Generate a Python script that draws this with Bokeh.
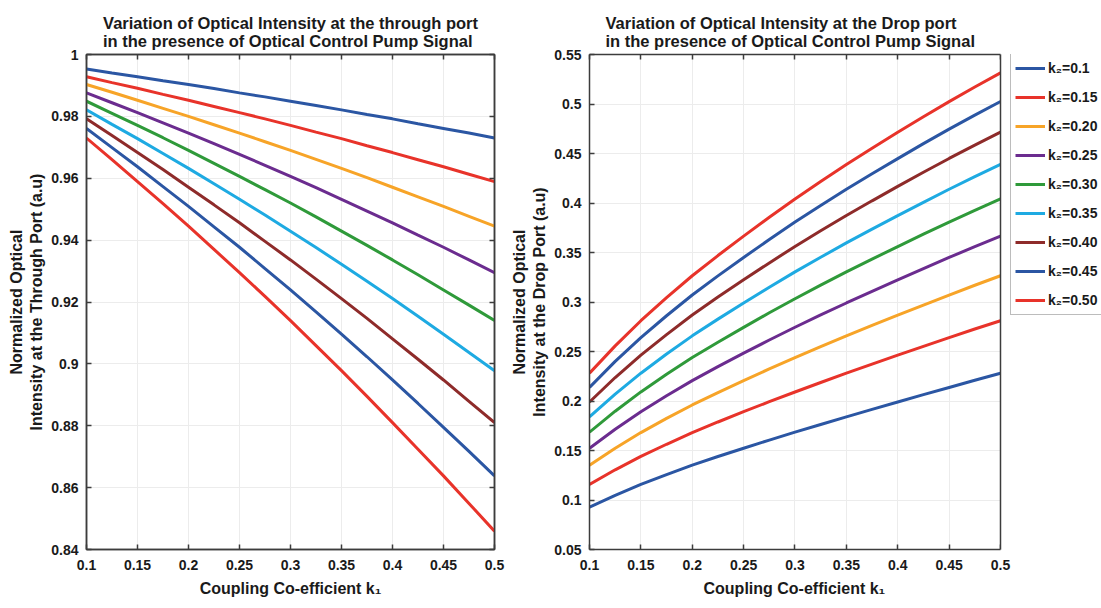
from bokeh.plotting import figure
from bokeh.layouts import row
from bokeh.models import (FixedTicker, LinearAxis, Legend, LegendItem, Range1d, Title,
                          BoxAnnotation, Span)
from bokeh.embed import file_html
from bokeh.resources import INLINE

# ---------------- data ----------------
k1 = [0.100, 0.125, 0.150, 0.175, 0.200, 0.225, 0.250, 0.275, 0.300,
      0.325, 0.350, 0.375, 0.400, 0.425, 0.450, 0.475, 0.500]
k2_labels = ["k\u2082=0.1", "k\u2082=0.15", "k\u2082=0.20", "k\u2082=0.25", "k\u2082=0.30",
             "k\u2082=0.35", "k\u2082=0.40", "k\u2082=0.45", "k\u2082=0.50"]
colors = ["#2B56A3", "#E8332A", "#F7A428", "#6B2C8F", "#2F9A3A", "#1EAAE2", "#8E2B2A", "#2B56A3", "#E8332A"]

# Through port (left panel), one list per k2
thr_k2_010 = [0.9953, 0.9940, 0.9928, 0.9915, 0.9903, 0.9890, 0.9876, 0.9863, 0.9849,
              0.9835, 0.9821, 0.9806, 0.9792, 0.9776, 0.9761, 0.9746, 0.9730]
thr_k2_015 = [0.9928, 0.9909, 0.9891, 0.9871, 0.9852, 0.9832, 0.9812, 0.9792, 0.9771,
              0.9749, 0.9728, 0.9705, 0.9683, 0.9660, 0.9637, 0.9613, 0.9589]
thr_k2_020 = [0.9903, 0.9878, 0.9852, 0.9826, 0.9800, 0.9773, 0.9746, 0.9718, 0.9690,
              0.9661, 0.9632, 0.9602, 0.9571, 0.9540, 0.9509, 0.9477, 0.9445]
thr_k2_025 = [0.9876, 0.9844, 0.9812, 0.9779, 0.9746, 0.9712, 0.9677, 0.9642, 0.9606,
              0.9570, 0.9532, 0.9494, 0.9456, 0.9416, 0.9377, 0.9336, 0.9295]
thr_k2_030 = [0.9849, 0.9810, 0.9771, 0.9731, 0.9690, 0.9648, 0.9606, 0.9563, 0.9520,
              0.9475, 0.9429, 0.9383, 0.9336, 0.9288, 0.9239, 0.9190, 0.9140]
thr_k2_035 = [0.9821, 0.9774, 0.9728, 0.9680, 0.9632, 0.9582, 0.9532, 0.9481, 0.9429,
              0.9376, 0.9322, 0.9267, 0.9211, 0.9154, 0.9096, 0.9037, 0.8978]
thr_k2_040 = [0.9792, 0.9738, 0.9683, 0.9628, 0.9571, 0.9514, 0.9456, 0.9396, 0.9336,
              0.9274, 0.9211, 0.9147, 0.9081, 0.9015, 0.8948, 0.8879, 0.8810]
thr_k2_045 = [0.9761, 0.9699, 0.9637, 0.9573, 0.9509, 0.9443, 0.9377, 0.9308, 0.9239,
              0.9168, 0.9096, 0.9023, 0.8948, 0.8872, 0.8795, 0.8717, 0.8638]
thr_k2_050 = [0.9730, 0.9660, 0.9589, 0.9518, 0.9445, 0.9370, 0.9295, 0.9218, 0.9140,
              0.9059, 0.8978, 0.8895, 0.8810, 0.8724, 0.8638, 0.8549, 0.8459]

# Drop port (right panel), one list per k2
drp_k2_010 = [0.0927, 0.1047, 0.1157, 0.1257, 0.1352, 0.1439, 0.1523, 0.1605, 0.1685,
              0.1763, 0.1840, 0.1915, 0.1990, 0.2064, 0.2137, 0.2209, 0.2280]
drp_k2_015 = [0.1157, 0.1305, 0.1440, 0.1563, 0.1681, 0.1788, 0.1892, 0.1993, 0.2091,
              0.2187, 0.2281, 0.2372, 0.2463, 0.2552, 0.2640, 0.2727, 0.2811]
drp_k2_020 = [0.1352, 0.1523, 0.1681, 0.1824, 0.1960, 0.2085, 0.2206, 0.2324, 0.2438,
              0.2549, 0.2658, 0.2764, 0.2867, 0.2969, 0.3070, 0.3169, 0.3265]
drp_k2_025 = [0.1523, 0.1715, 0.1892, 0.2053, 0.2206, 0.2347, 0.2483, 0.2616, 0.2745,
              0.2869, 0.2990, 0.3108, 0.3223, 0.3337, 0.3450, 0.3559, 0.3665]
drp_k2_030 = [0.1685, 0.1897, 0.2092, 0.2270, 0.2439, 0.2594, 0.2744, 0.2891, 0.3033,
              0.3170, 0.3304, 0.3433, 0.3560, 0.3685, 0.3807, 0.3926, 0.4042]
drp_k2_035 = [0.1840, 0.2070, 0.2281, 0.2475, 0.2658, 0.2827, 0.2990, 0.3149, 0.3304,
              0.3452, 0.3597, 0.3736, 0.3873, 0.4007, 0.4139, 0.4266, 0.4390]
drp_k2_040 = [0.1990, 0.2237, 0.2463, 0.2671, 0.2868, 0.3050, 0.3224, 0.3395, 0.3561,
              0.3719, 0.3874, 0.4022, 0.4168, 0.4311, 0.4450, 0.4585, 0.4716]
drp_k2_045 = [0.2137, 0.2400, 0.2640, 0.2861, 0.3071, 0.3264, 0.3450, 0.3631, 0.3807,
              0.3975, 0.4138, 0.4295, 0.4448, 0.4600, 0.4746, 0.4888, 0.5025]
drp_k2_050 = [0.2280, 0.2557, 0.2811, 0.3044, 0.3265, 0.3469, 0.3665, 0.3856, 0.4041,
              0.4218, 0.4389, 0.4554, 0.4715, 0.4872, 0.5024, 0.5172, 0.5315]

through = [thr_k2_010, thr_k2_015, thr_k2_020, thr_k2_025, thr_k2_030,
           thr_k2_035, thr_k2_040, thr_k2_045, thr_k2_050]
drop = [drp_k2_010, drp_k2_015, drp_k2_020, drp_k2_025, drp_k2_030,
        drp_k2_035, drp_k2_040, drp_k2_045, drp_k2_050]

x_ticks = [0.1, 0.15, 0.2, 0.25, 0.3, 0.35, 0.4, 0.45, 0.5]
x_tick_labels = ["0.1", "0.15", "0.2", "0.25", "0.3", "0.35", "0.4", "0.45", "0.5"]
yl_ticks = [0.84, 0.86, 0.88, 0.9, 0.92, 0.94, 0.96, 0.98, 1.0]
yl_tick_labels = ["0.84", "0.86", "0.88", "0.9", "0.92", "0.94", "0.96", "0.98", "1"]
yr_ticks = [0.05, 0.1, 0.15, 0.2, 0.25, 0.3, 0.35, 0.4, 0.45, 0.5, 0.55]
yr_tick_labels = ["0.05", "0.1", "0.15", "0.2", "0.25", "0.3", "0.35", "0.4", "0.45", "0.5", "0.55"]

FONT = "Liberation Sans"
AX = "#3c3c3c"
TXT = "#1a1a1a"
X_LO, X_HI = 0.1, 0.5
X_LABEL = "Coupling Co-efficient k\u2081"


def style_axis(ax, ticks, labels, show_labels=True):
    ax.ticker = FixedTicker(ticks=ticks)
    ax.minor_tick_line_color = None
    ax.major_tick_in = 5
    ax.major_tick_out = 0
    ax.major_tick_line_color = AX
    ax.major_tick_line_width = 1.5
    ax.axis_line_color = AX
    ax.axis_line_width = 1.5
    ax.major_label_text_font = FONT
    ax.major_label_text_font_style = "bold"
    if show_labels:
        ax.major_label_overrides = dict(zip(ticks, labels))
        ax.major_label_text_color = TXT
        ax.major_label_text_font_size = "14px"
        ax.major_label_standoff = 10
    else:
        ax.major_label_text_color = None
        ax.major_label_text_font_size = "1px"
        ax.major_label_standoff = 0
        ax.axis_label_standoff = 0


def make_fig(yr, yticks, ylabels, title, ylabel, xlabel, frame_w, x_end, left_border, right_border,
             title_align="center", title_offset=0, right_axis=True):
    p = figure(frame_width=frame_w, frame_height=495,
               x_range=Range1d(X_LO, x_end), y_range=Range1d(*yr),
               output_backend="svg", toolbar_location=None,
               min_border_left=left_border, min_border_right=right_border,
               min_border_top=54, min_border_bottom=59)
    p.title = Title(text=title, align=title_align, offset=title_offset, text_font=FONT,
                    text_font_size="16.5px", text_font_style="bold", text_color=TXT)
    style_axis(p.xaxis[0], x_ticks, x_tick_labels)
    p.xaxis[0].bounds = (X_LO, X_HI)
    style_axis(p.yaxis[0], yticks, ylabels)
    p.yaxis[0].major_label_standoff = 8
    p.xaxis.axis_label = xlabel
    p.yaxis.axis_label = ylabel
    for ax in (p.xaxis[0], p.yaxis[0]):
        ax.axis_label_text_font = FONT
        ax.axis_label_text_font_style = "bold"
        ax.axis_label_text_font_size = "16px"
        ax.axis_label_text_color = TXT
    p.xaxis[0].axis_label_standoff = 7
    p.yaxis[0].axis_label_standoff = 3
    top = LinearAxis()
    style_axis(top, x_ticks, x_tick_labels, show_labels=False)
    top.bounds = (X_LO, X_HI)
    p.add_layout(top, "above")
    if right_axis:
        right = LinearAxis()
        style_axis(right, yticks, ylabels, show_labels=False)
        p.add_layout(right, "right")
        p.outline_line_color = AX
        p.outline_line_width = 1.5
    else:
        p.outline_line_color = None
    p.xgrid.ticker = FixedTicker(ticks=x_ticks)
    p.ygrid.ticker = FixedTicker(ticks=yticks)
    p.grid.grid_line_color = "#ececec"
    p.grid.grid_line_width = 1
    return p


p1 = make_fig((0.84, 1.0), yl_ticks, yl_tick_labels,
              "Variation of Optical Intensity at the through port\nin the presence of Optical Control Pump Signal",
              "Normalized Optical\nIntensity at the Through Port (a.u)", X_LABEL, 408, X_HI, 86, 12)
for ys, c in zip(through, colors):
    p1.line(k1, ys, line_color=c, line_width=3)

# right plot: the frame continues to the page edge so that the legend can sit beside the box;
# trailing no-break spaces keep the x label centred under the box itself
p2 = make_fig((0.05, 0.55), yr_ticks, yr_tick_labels,
              "Variation of Optical Intensity at the Drop port\nin the presence of Optical Control Pump Signal",
              "Normalized Optical\nIntensity at the Drop Port (a.u)", X_LABEL + "\u00a0" * 23,
              512, 0.5983, 83, 0, title_align="left", title_offset=16, right_axis=False)
items = []
for ys, c, lab in zip(drop, colors, k2_labels):
    r = p2.line(k1, ys, line_color=c, line_width=3)
    items.append(LegendItem(label=lab, renderers=[r]))

p2.add_layout(BoxAnnotation(left=X_HI, fill_color="white", fill_alpha=1.0, line_color=None))
p2.add_layout(Span(location=X_HI, dimension="height", line_color=AX, line_width=1.5))

legend = Legend(items=items, location=(421, 234), glyph_width=30, glyph_height=20,
                label_standoff=3, spacing=9, padding=4, margin=0,
                label_text_font=FONT, label_text_font_style="bold", label_text_font_size="14px",
                label_text_color=TXT, border_line_color="#7a7a7a", border_line_width=1.5,
                background_fill_color="white", background_fill_alpha=1.0)
p2.add_layout(legend)

layout = row(p1, p2, spacing=0)
open("out.html", "w").write(file_html(layout, INLINE))
